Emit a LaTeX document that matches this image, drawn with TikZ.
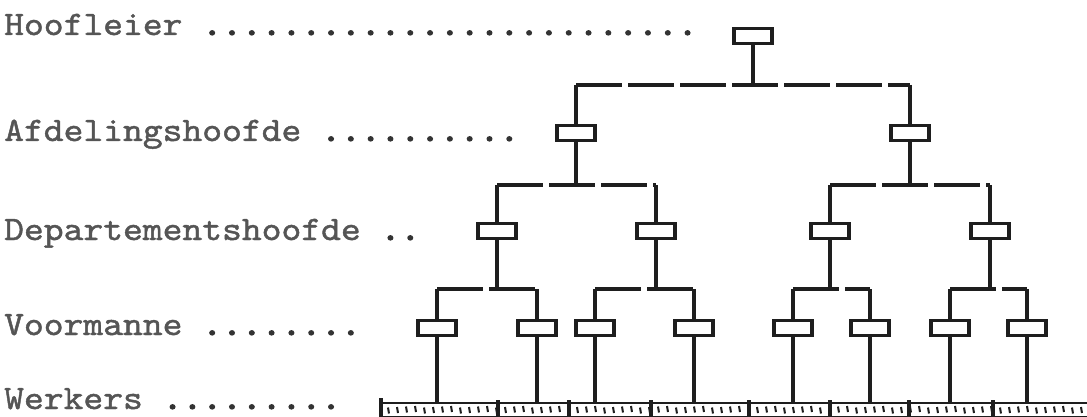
\documentclass[tikz,border=0pt]{standalone}
\usepackage{fontspec}
\newfontfamily\typew[FakeStretch=1.1,FakeBold=1.3]{lmmono10-regular.otf}
\newfontfamily\typedots[FakeStretch=1.1,FakeBold=3.5]{lmmono10-regular.otf}
\definecolor{ink}{HTML}{1E1E1E}
\definecolor{typeink}{HTML}{555555}
\definecolor{dotink}{HTML}{333333}
\newcommand{\leaderdots}[1]{{\typedots\color{dotink}#1}}
\begin{document}
\begin{tikzpicture}[x=1pt,y=-1pt,
  lbl/.style={anchor=base west,inner sep=0,text=typeink,font=\typew\fontsize{34.3}{34}\selectfont},
  postbox/.style={draw=ink,line width=3.2pt,minimum width=38pt,minimum height=15pt,inner sep=0,fill=white},
  link/.style={draw=ink,line width=3.2pt},
  hline/.style={draw=ink,line width=3.2pt,dash pattern=on 46pt off 6pt},
  tickmark/.style={draw=ink,line width=2pt},
  divider/.style={draw=ink,line width=3.2pt}]
\useasboundingbox (0,0) rectangle (1087,417);
\fill[white] (0,0) rectangle (1087,417);
% labels
\node[lbl] (l1) at (4,35) {Hoofleier \leaderdots{.........................}};
\node[lbl] (l2) at (4,141) {Afdelingshoofde \leaderdots{..........}};
\node[lbl] (l3) at (4,240) {Departementshoofde \leaderdots{..}};
\node[lbl] (l4) at (4,335) {Voormanne \leaderdots{........}};
\node[lbl] (l5) at (4,409) {Werkers \leaderdots{.........}};
% junction heights
\coordinate (h1) at (0,85);
\coordinate (h2) at (0,185);
\coordinate (h3) at (0,289);
\coordinate (bar) at (0,403);
% boxes
\node[postbox] (top) at (753,36) {};
\node[postbox] (a1) at (576,133) {};
\node[postbox] (a2) at (910,133) {};
\node[postbox] (d1) at (497,231) {};
\node[postbox] (d2) at (656,231) {};
\node[postbox] (d3) at (830,231) {};
\node[postbox] (d4) at (990,231) {};
\node[postbox] (v1) at (437,328) {};
\node[postbox] (v2) at (537,328) {};
\node[postbox] (v3) at (595,328) {};
\node[postbox] (v4) at (694,328) {};
\node[postbox] (v5) at (793,328) {};
\node[postbox] (v6) at (870,328) {};
\node[postbox] (v7) at (950,328) {};
\node[postbox] (v8) at (1027,328) {};
% connectors
\draw[link] (top.south) -- (top.south |- h1);
\draw[hline] (a1.north |- h1) -- (a2.north |- h1);
\draw[link] (a1.north |- h1) -- (a1.north);
\draw[link] (a2.north |- h1) -- (a2.north);
\foreach \p/\c/\d in {a1/d1/d2, a2/d3/d4}{
  \draw[link] (\p.south) -- (\p.south |- h2);
  \draw[hline] (\c.north |- h2) -- (\d.north |- h2);
  \draw[link] (\c.north |- h2) -- (\c.north);
  \draw[link] (\d.north |- h2) -- (\d.north);
}
\foreach \p/\c/\d in {d1/v1/v2, d2/v3/v4, d3/v5/v6, d4/v7/v8}{
  \draw[link] (\p.south) -- (\p.south |- h3);
  \draw[hline] (\c.north |- h3) -- (\d.north |- h3);
  \draw[link] (\c.north |- h3) -- (\c.north);
  \draw[link] (\d.north |- h3) -- (\d.north);
}
\foreach \v in {v1,v2,v3,v4,v5,v6,v7,v8}{
  \draw[link] (\v.south) -- (\v.south |- bar);
}
% workers strip
\coordinate (barL) at (380,403);
\coordinate (barR) at (1087,403);
\draw[link,line width=2.8pt] (barL) -- (barR);
\draw[ink,line width=2pt] (380,416.5) -- (1087,416.5);
\foreach \x in {498,569,651,749,830,909,993}{
  \draw[divider] (\x,400) -- (\x,417);
}
\draw[divider,line width=3.6pt] (381,398) -- (381,417);
\foreach \x [count=\i] in {388,397,...,1083}{
  \pgfmathsetmacro{\dy}{mod(\i*7,4)}
  \draw[tickmark] (\x,406+\dy/2) -- (\x+1,412+\dy/2);
}
\end{tikzpicture}
\end{document}
